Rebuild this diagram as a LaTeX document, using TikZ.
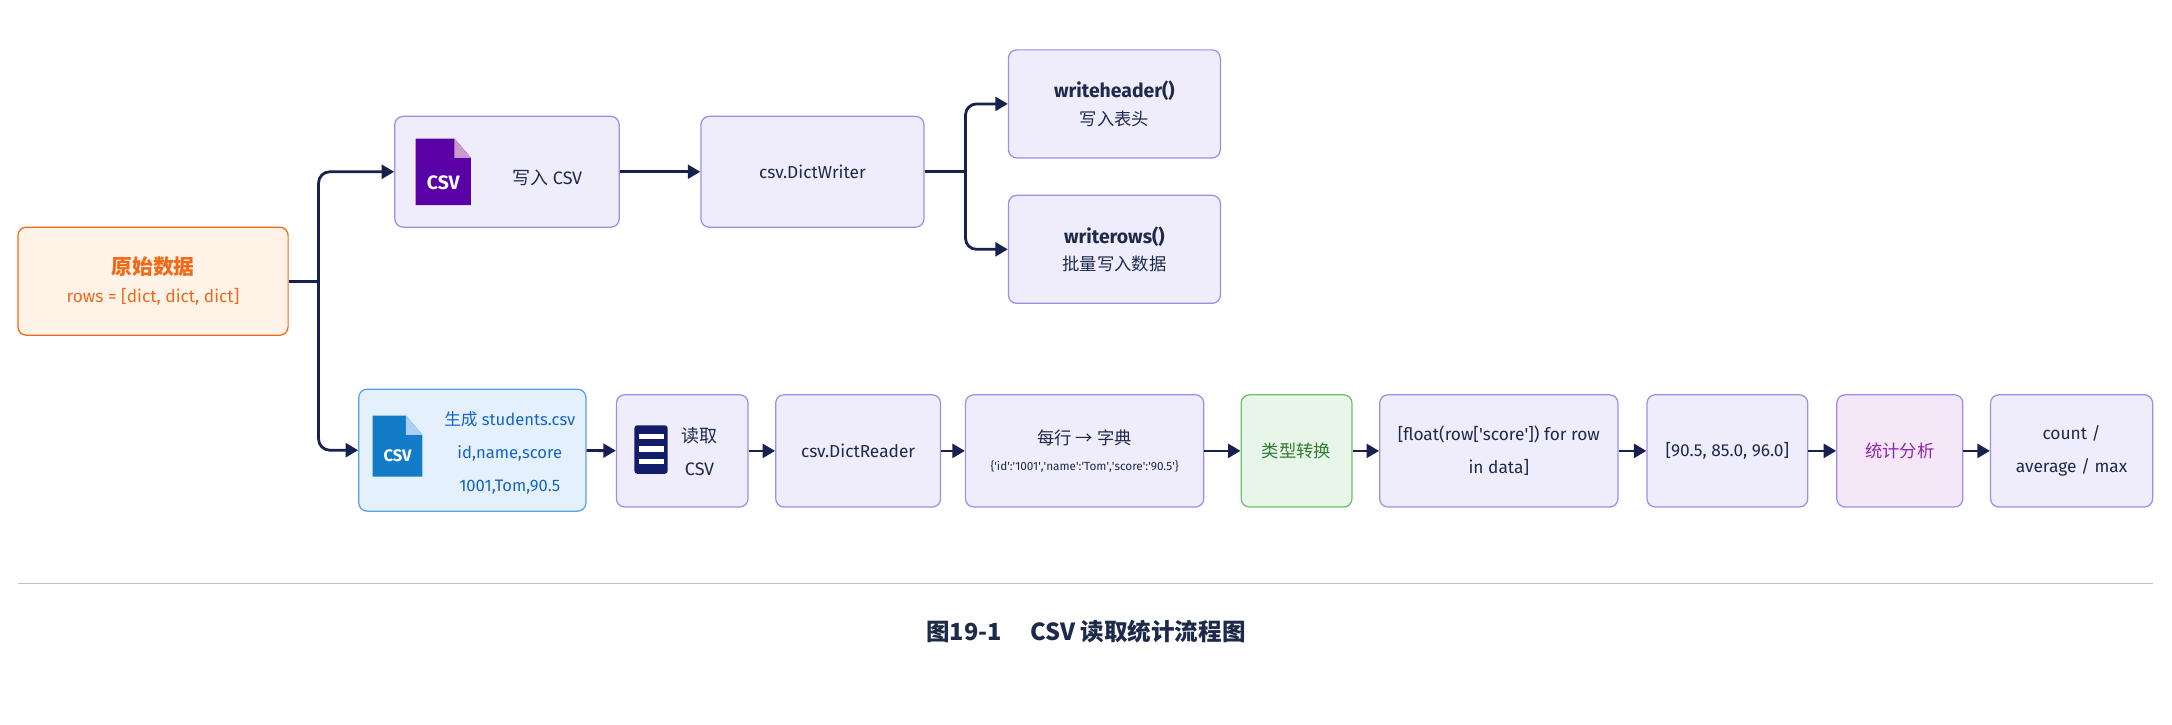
\documentclass[tikz,border=0pt]{standalone}
\usepackage{fontspec}
\setmainfont{Fira Sans}
\newfontfamily\cjk{Noto Sans CJK SC}
\usetikzlibrary{arrows.meta}
\newcommand{\q}{\textquotesingle}
\definecolor{navy}{HTML}{16214F}
\definecolor{txt}{HTML}{1E2A4A}
\definecolor{lav}{HTML}{EFEDFC}
\definecolor{lavb}{HTML}{9C8FE8}
\definecolor{org}{HTML}{F06A1A}
\definecolor{orgf}{HTML}{FFF3E8}
\definecolor{bluf}{HTML}{E4F1FD}
\definecolor{blub}{HTML}{5AA0E8}
\definecolor{blut}{HTML}{1565C0}
\definecolor{grnf}{HTML}{E8F5E9}
\definecolor{grnb}{HTML}{6BBF6E}
\definecolor{grnt}{HTML}{2E7D32}
\definecolor{pf}{HTML}{F5E6F8}
\definecolor{pt}{HTML}{8E24AA}
\begin{document}
\begin{tikzpicture}[x=1pt,y=-1pt,
  box/.style={draw=lavb,fill=lav,rounded corners=6pt,line width=0.9pt,text=txt,align=center,font=\fontsize{12.5}{20}\selectfont,inner sep=2pt},
  line/.style={draw=navy,line width=2pt,rounded corners=8pt},
  arr/.style={line,-{Triangle[length=9pt,width=10pt]}},
  bx/.style args={#1/#2/#3/#4}{box,minimum width={(#3-#1)*1pt},minimum height={(#4-#2)*1pt},at={({(#1+#3)/2},{(#2+#4)/2})}}]
\useasboundingbox (0,0) rectangle (1568,523);
\fill[white] (0,0) rectangle (1568,523);
% nodes
\node[bx=13/164/208/242,draw=org,fill=orgf,text=org] (raw) {{\cjk\bfseries\fontsize{15}{20}\selectfont 原始数据}\\rows = [dict, dict, dict]};
\node[bx=285/84/447/164] (w) {};
\node[txt,font=\fontsize{13}{15}\selectfont] at (395,128) {{\cjk 写入} CSV};
\node[bx=506/84/667/164] (dw) {csv.DictWriter};
\node[bx=728/36/881/114] (wh) {\textbf{\fontsize{14}{20}\selectfont writeheader()}\\{\cjk 写入表头}};
\node[bx=728/141/881/219] (wr) {\textbf{\fontsize{14}{20}\selectfont writerows()}\\{\cjk 批量写入数据}};
\node[bx=259/281/423/369,draw=blub,fill=bluf] (st) {};
\node[text=blut,align=center,font=\fontsize{12}{24}\selectfont] at (368,327) {{\cjk 生成} students.csv\\id,name,score\\1001,Tom,90.5};
\node[bx=445/285/540/366] (rd) {};
\node[txt,align=center,font=\fontsize{13}{24}\selectfont] at (505,326) {{\cjk 读取}\\CSV};
\node[bx=560/285/679/366] (dr) {csv.DictReader};
\node[bx=697/285/869/366] (row) {{\cjk 每行 → 字典}\\[-1pt]{\fontsize{8.5}{10}\selectfont \{\q id\q:\q 1001\q,\q name\q:\q Tom\q,\q score\q:\q 90.5\q\}}};
\node[bx=896/285/976/366,draw=grnb,fill=grnf,text=grnt] (tc) {\cjk 类型转换};
\node[bx=996/285/1168/366,font=\fontsize{12.5}{24}\selectfont] (fl) {[float(row[\q score\q]) for row\\in data]};
\node[bx=1189/285/1305/366] (li) {[90.5, 85.0, 96.0]};
\node[bx=1326/285/1417/366,draw=lavb,fill=pf,text=pt] (sa) {\cjk 统计分析};
\node[bx=1437/285/1554/366,font=\fontsize{12.5}{24}\selectfont] (cm) {count /\\average / max};
% icons
\fill[violet!70!blue] (300,100) -- (328,100) -- (340,114) -- (340,148) -- (300,148) -- cycle;
\fill[violet!40!white] (328,100) -- (340,114) -- (328,114) -- cycle;
\node[white,font=\bfseries\fontsize{14}{14}\selectfont] at (320,132) {CSV};
\fill[blut!85!cyan] (269,300) -- (293,300) -- (305,314) -- (305,344) -- (269,344) -- cycle;
\fill[blub!50!white] (293,300) -- (305,314) -- (293,314) -- cycle;
\node[white,font=\bfseries\fontsize{12}{12}\selectfont] at (287,329) {CSV};
\fill[navy!85!blue,rounded corners=2pt] (458,307) rectangle (482,342);
\foreach \yy in {315,324,333} \fill[white] (461,\yy-2) rectangle (479,\yy+2);
% connectors
\coordinate (j) at (230,203);
\draw[line] (raw.east) -- (j);
\draw[arr] (j) |- (w.west);
\draw[arr] (j) |- (st.west);
\draw[arr] (w) -- (dw);
\coordinate (k) at (697,124);
\draw[line] (dw.east) -- (k);
\draw[arr] (k) |- (wh.west);
\draw[arr] (k) |- (wr.west);
\draw[arr] (st) -- (rd);
\draw[arr] (rd) -- (dr);
\draw[arr] (dr) -- (row);
\draw[arr] (row) -- (tc);
\draw[arr] (tc) -- (fl);
\draw[arr] (fl) -- (li);
\draw[arr] (li) -- (sa);
\draw[arr] (sa) -- (cm);
% caption
\draw[black!25,line width=0.8pt] (13,421) -- (1554,421);
\node[txt,font=\cjk\bfseries\fontsize{17}{20}\selectfont] (cap) at (784,456) {图19-1\hspace{1.2em}CSV 读取统计流程图};
\end{tikzpicture}
\end{document}
